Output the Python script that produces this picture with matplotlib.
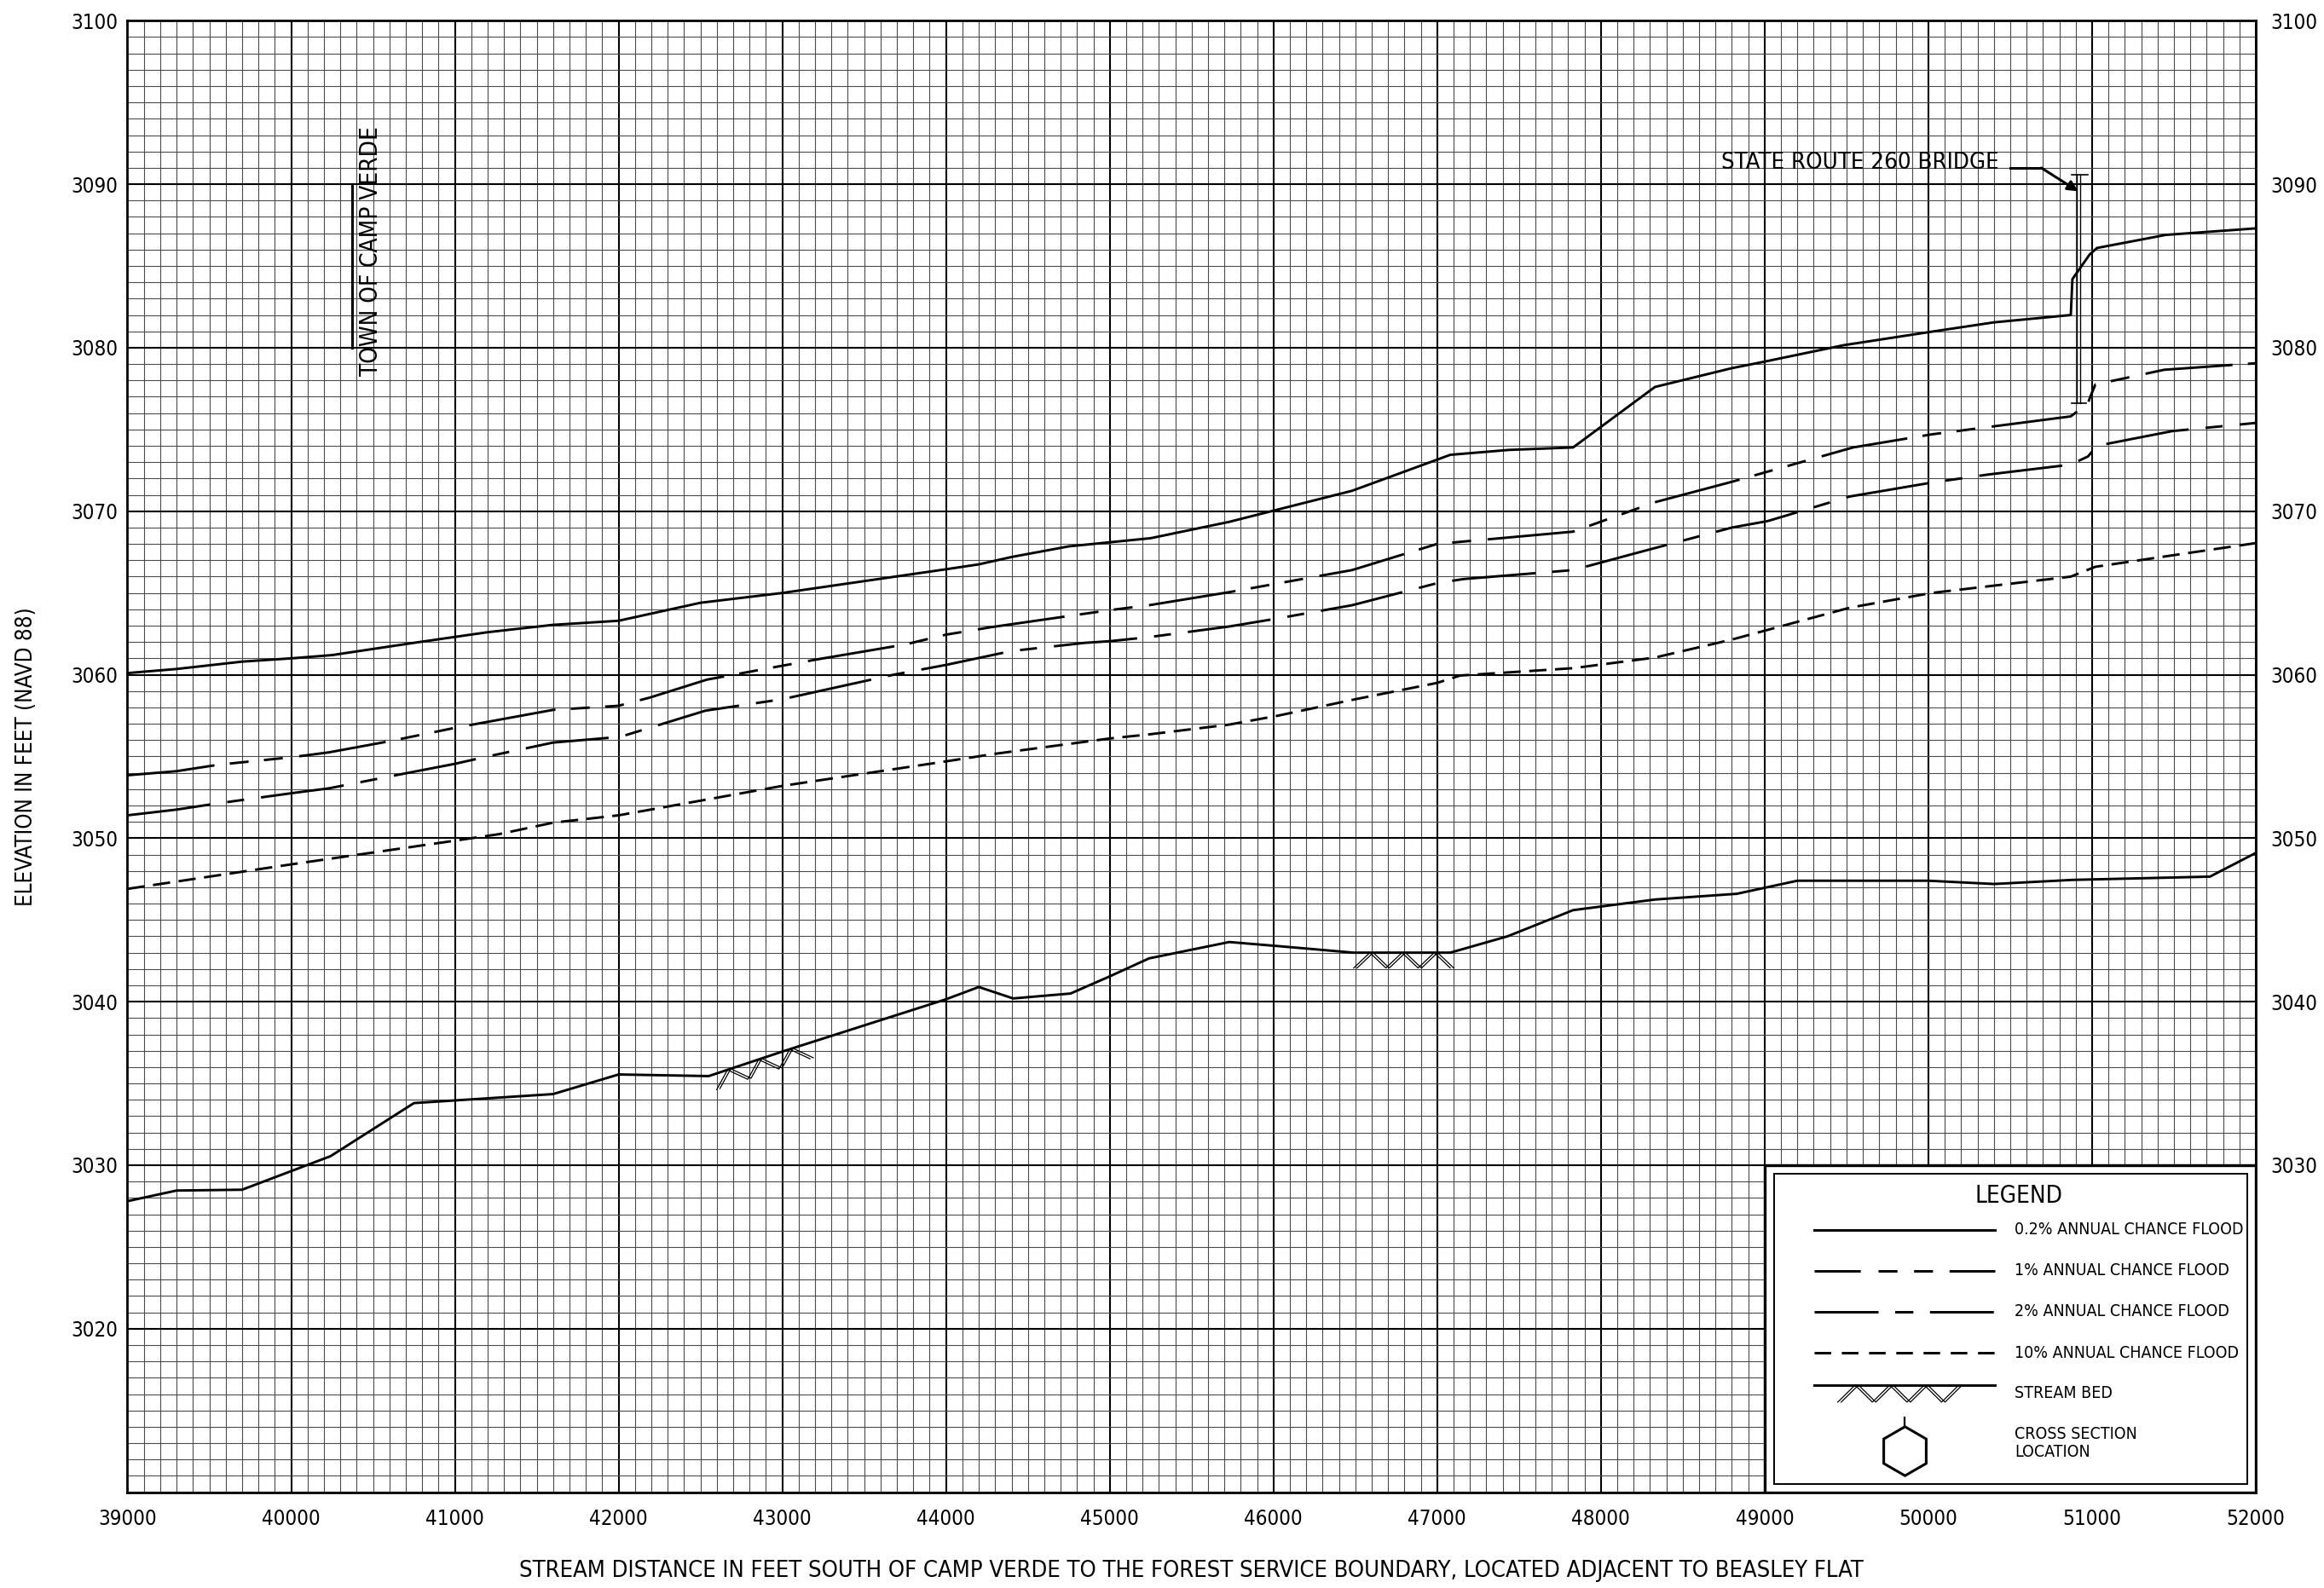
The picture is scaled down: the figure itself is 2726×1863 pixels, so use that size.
import numpy as np
import matplotlib
matplotlib.use("Agg")
import matplotlib.pyplot as plt
from matplotlib.ticker import MultipleLocator
from matplotlib.patches import Rectangle
from matplotlib import font_manager

# pick a condensed / narrow sans face if one is installed
cands = []
for f in font_manager.fontManager.ttflist:
    st = str(f.stretch).lower()
    nm = f.name
    if f.style != 'normal':
        continue
    if str(f.weight) not in ('400', 'normal', 'regular', 'book'):
        continue
    if 'condensed' in st or 'narrow' in st or 'Narrow' in nm or 'Condensed' in nm:
        if 'semi' in st or 'Semi' in nm:
            score = 2
        else:
            score = 1
        if 'Sans' in nm or 'Roboto' in nm or 'Liberation' in nm:
            score -= 0.5
        cands.append((score, nm, f.stretch))
cands.sort()
if cands:
    FONT, STRETCH = cands[0][1], cands[0][2]
else:
    FONT, STRETCH = 'Liberation Sans', 'normal'
plt.rcParams['font.family'] = [FONT, 'DejaVu Sans']
plt.rcParams['font.stretch'] = STRETCH
plt.rcParams['lines.scale_dashes'] = False

# ---------------- data ----------------
X_02 = [39000, 39300, 39700, 40000, 40250, 40750, 41200, 41600, 42000, 42500, 43000,
        44000, 44200, 44400, 44750, 45000, 45250, 45730, 46480, 47080, 47440, 47830,
        48330, 48800, 49000, 49480, 50000, 50400, 50870, 50880, 50985, 51030, 51450, 52000]
Y_02 = [3060.1, 3060.35, 3060.8, 3061.0, 3061.2, 3061.95, 3062.6, 3063.05, 3063.3, 3064.4, 3065.0,
        3066.45, 3066.75, 3067.2, 3067.85, 3068.1, 3068.35, 3069.35, 3071.25, 3073.45, 3073.75, 3073.9,
        3077.6, 3078.75, 3079.15, 3080.15, 3080.95, 3081.55, 3082.0, 3084.2, 3085.7, 3086.1, 3086.9, 3087.3]

X_1 = [39000, 39300, 39560, 40000, 40230, 40610, 41000, 41600, 42000, 42190, 42540, 43000,
       43220, 43750, 44000, 44270, 45000, 45240, 45730, 46480, 47000, 47830, 48330, 48800,
       49540, 50020, 50870, 50975, 50985, 51020, 51440, 52000]
Y_1 = [3053.85, 3054.1, 3054.5, 3054.95, 3055.25, 3055.95, 3056.75, 3057.85, 3058.1, 3058.6, 3059.7, 3060.55,
       3060.95, 3061.85, 3062.45, 3062.9, 3063.95, 3064.25, 3065.05, 3066.4, 3068.0, 3068.75, 3070.55, 3071.8,
       3073.9, 3074.7, 3075.8, 3076.6, 3076.9, 3077.75, 3078.65, 3079.05]

X_2 = [39000, 39300, 39530, 40000, 40230, 40690, 41000, 41200, 41600, 42010, 42530, 43000,
       43680, 44000, 44400, 44850, 45000, 45240, 45730, 46030, 46480, 47000, 47160, 47830,
       48200, 48800, 49020, 49520, 50020, 50370, 50870, 50975, 51030, 51490, 52000]
Y_2 = [3051.4, 3051.75, 3052.1, 3052.75, 3053.05, 3053.95, 3054.55, 3055.0, 3055.85, 3056.2, 3057.8, 3058.5,
       3060.0, 3060.6, 3061.45, 3061.95, 3062.05, 3062.3, 3062.95, 3063.45, 3064.25, 3065.6, 3065.85, 3066.4,
       3067.4, 3069.0, 3069.4, 3070.9, 3071.75, 3072.25, 3072.85, 3073.35, 3074.0, 3074.9, 3075.4]

X_10 = [39000, 40000, 41000, 41270, 41600, 42000, 42530, 43000, 44000, 44290, 45000, 45240,
        45730, 46030, 46500, 47000, 47140, 47830, 48330, 48800, 49520, 50020, 50870, 51020, 51490, 52000]
Y_10 = [3046.9, 3048.4, 3049.85, 3050.25, 3050.95, 3051.4, 3052.35, 3053.2, 3054.7, 3055.15, 3056.1, 3056.35,
        3056.95, 3057.5, 3058.5, 3059.5, 3059.95, 3060.4, 3061.05, 3062.15, 3064.1, 3065.0, 3066.0, 3066.6, 3067.3, 3068.05]

X_BED = [39000, 39300, 39700, 40240, 40750, 41600, 42000, 42550, 43000, 44000, 44200, 44410,
         44760, 45000, 45240, 45730, 46030, 46490, 47080, 47430, 47830, 48330, 48830, 49200,
         50000, 50400, 50880, 51720, 52000]
Y_BED = [3027.8, 3028.45, 3028.5, 3030.55, 3033.8, 3034.35, 3035.55, 3035.45, 3036.95, 3040.15, 3040.9, 3040.2,
         3040.5, 3041.55, 3042.65, 3043.65, 3043.4, 3043.0, 3043.0, 3044.0, 3045.6, 3046.25, 3046.6, 3047.4,
         3047.4, 3047.2, 3047.45, 3047.65, 3049.1]

BED_HATCH = [(42570, 43140), (46490, 47080)]

X_TICKS = list(range(39000, 52001, 1000))
Y_TICKS = list(range(3010, 3101, 10))
Y_LABELS = [''] + [str(v) for v in range(3020, 3101, 10)]
Y_TICKS_RIGHT = list(range(3030, 3101, 10))

BRIDGE_X = 50920
BRIDGE_TOP = 3090.6
BRIDGE_BOTTOM = 3076.6
TOWN_X = 40370
TOWN_RANGE = (3080, 3090)

LEGEND_LABELS = ["0.2% ANNUAL CHANCE FLOOD", "1% ANNUAL CHANCE FLOOD",
                 "2% ANNUAL CHANCE FLOOD", "10% ANNUAL CHANCE FLOOD"]

# ---------------- styles ----------------
DASH_1 = (0, (37, 6.5, 8, 6.5, 8, 7))
DASH_2 = (0, (35.3, 7.2, 7.2, 7.2))
DASH_10 = (0, (7.3, 3.6))
LEG_DASH_1 = (0, (19.5, 7.5, 8, 7, 8, 7))
LEG_DASH_2 = (0, (27, 7, 7.7, 7))
LEG_DASH_10 = (0, (7, 4.5))
LW = 1.05
FS_TICK = 8.7
FS_LEG = 7.0

fig = plt.figure(figsize=(13.63, 9.315), dpi=200)
ax = fig.add_axes([0.05484, 0.06033, 0.91581, 0.92662])
ax.set_xlim(39000, 52000)
ax.set_ylim(3010, 3100)
ax.xaxis.set_major_locator(MultipleLocator(1000))
ax.xaxis.set_minor_locator(MultipleLocator(100))
ax.yaxis.set_minor_locator(MultipleLocator(1))
ax.set_xticks(X_TICKS)
ax.set_xticklabels([str(v) for v in X_TICKS])
ax.set_yticks(Y_TICKS)
ax.set_yticklabels(Y_LABELS)
ax.set_axisbelow(True)
ax.grid(which='major', color='black', lw=0.75)
ax.grid(which='minor', color='#4a4a4a', lw=0.4)
ax.tick_params(which='both', length=0)
ax.tick_params(axis='x', pad=7.0, labelsize=FS_TICK)
ax.tick_params(axis='y', pad=4.0, labelsize=FS_TICK)
for s in ax.spines.values():
    s.set_linewidth(1.0)

twin = ax.twinx()
twin.set_ylim(3010, 3100)
twin.set_yticks(Y_TICKS_RIGHT)
twin.set_yticklabels([str(v) for v in Y_TICKS_RIGHT])
twin.tick_params(length=0, pad=6.3, labelsize=FS_TICK)
for s in twin.spines.values():
    s.set_visible(False)

# profiles
ax.plot(X_02, Y_02, color='black', lw=LW, zorder=3)
ax.plot(X_1, Y_1, color='black', lw=LW, linestyle=DASH_1, zorder=3)
ax.plot(X_2, Y_2, color='black', lw=LW, linestyle=DASH_2, zorder=3)
ax.plot(X_10, Y_10, color='black', lw=LW, linestyle=DASH_10, zorder=3)
ax.plot(X_BED, Y_BED, color='black', lw=LW, zorder=3)


def hatch(ax, p0, p1, trans, period=38.0, depth=18.0, dbl=4.0, lw=0.45, z=3):
    a = np.array(trans.transform(p0))
    b = np.array(trans.transform(p1))
    v = b - a
    L = np.hypot(*v)
    t = v / L
    n = np.array([t[1], -t[0]])
    nseg = max(2, int(round(L / (period / 2))))
    half = L / nseg
    pts = []
    for k in range(nseg + 1):
        d = depth if k % 2 == 0 else 0.0
        pts.append(a + k * half * t + d * n)
    pts = np.array(pts)
    inv = trans.inverted()
    for off in (0.0, dbl):
        q = inv.transform(pts + off * t)
        ax.plot(q[:, 0], q[:, 1], color='black', lw=lw, transform=trans, zorder=z,
                solid_joinstyle='miter')


for (h0, h1) in BED_HATCH:
    y0 = np.interp(h0, X_BED, Y_BED)
    y1 = np.interp(h1, X_BED, Y_BED)
    hatch(ax, (h0, y0), (h1, y1), ax.transData)

# bridge marker
for dx in (-12, 8):
    ax.plot([BRIDGE_X + dx, BRIDGE_X + dx], [BRIDGE_BOTTOM, BRIDGE_TOP], color='black', lw=0.5, zorder=3)
ax.plot([BRIDGE_X - 45, BRIDGE_X + 55], [BRIDGE_TOP, BRIDGE_TOP], color='black', lw=0.6, zorder=3)
ax.plot([BRIDGE_X - 45, BRIDGE_X + 45], [BRIDGE_BOTTOM, BRIDGE_BOTTOM], color='black', lw=0.6, zorder=3)
ax.text(50430, 3091.3, "STATE ROUTE 260 BRIDGE", ha='right', va='center', fontsize=9.9, zorder=4)
ax.plot([50500, 50690], [3091.0, 3091.0], color='black', lw=1.1, zorder=3)
ax.annotate('', xy=(BRIDGE_X - 5, 3089.57), xytext=(50690, 3091.0),
            arrowprops=dict(arrowstyle='-|>', lw=1.1, color='black', mutation_scale=9,
                            shrinkA=0, shrinkB=0), zorder=3)

# town of camp verde
ax.plot([TOWN_X, TOWN_X], list(TOWN_RANGE), color='black', lw=1.1, zorder=3)
ax.text(40486, 3078.3, "TOWN OF CAMP VERDE", rotation=90, ha='center', va='bottom',
        fontsize=10.0, zorder=4)

# legend box
ax.add_patch(Rectangle((0.76923, 0.0), 0.23077, 0.22222, transform=ax.transAxes,
                       facecolor='white', edgecolor='black', lw=1.2, zorder=5))
ax.add_patch(Rectangle((0.7736, 0.0058), 0.2224, 0.2107, transform=ax.transAxes,
                       facecolor='none', edgecolor='black', lw=0.7, zorder=6))
T = ax.transAxes
ax.text(0.8886, 0.2014, "LEGEND", transform=T, ha='center', va='center', fontsize=10.0, zorder=7)
lx0, lx1, tx = 0.7924, 0.8773, 0.8868
rows = [0.1784, 0.1506, 0.1226, 0.0946]
styles = ['-', LEG_DASH_1, LEG_DASH_2, LEG_DASH_10]
for yy, st, lab in zip(rows, styles, LEGEND_LABELS):
    ax.plot([lx0, lx1], [yy, yy], transform=T, color='black', lw=LW, linestyle=st, zorder=7)
    ax.text(tx, yy, lab, transform=T, ha='left', va='center', fontsize=FS_LEG, zorder=7)
ax.plot([lx0, lx1], [0.0728, 0.0728], transform=T, color='black', lw=LW, zorder=7)
hatch(ax, (0.8036, 0.0728), (0.8605, 0.0728), T, depth=20.0, z=7)
ax.text(tx, 0.0675, "STREAM BED", transform=T, ha='left', va='center', fontsize=FS_LEG, zorder=7)
ax.plot([0.8350], [0.0282], transform=T, marker='h', markersize=20.7, mfc='white', mec='black',
        mew=1.1, zorder=7)
ax.plot([0.8350, 0.8350], [0.0448, 0.0507], transform=T, color='black', lw=0.8, zorder=7)
ax.text(tx, 0.0397, "CROSS SECTION", transform=T, ha='left', va='center', fontsize=FS_LEG, zorder=7)
ax.text(tx, 0.0270, "LOCATION", transform=T, ha='left', va='center', fontsize=FS_LEG, zorder=7)

# axis labels
fig.text(0.51275, 0.0107, "STREAM DISTANCE IN FEET SOUTH OF CAMP VERDE TO THE FOREST SERVICE BOUNDARY, LOCATED ADJACENT TO BEASLEY FLAT",
         ha='center', va='center', fontsize=9.8)
fig.text(0.0114, 0.5236, "ELEVATION IN FEET (NAVD 88)", rotation=90, ha='center', va='center', fontsize=9.3)

fig.savefig("out.png", dpi=200, facecolor='white')
